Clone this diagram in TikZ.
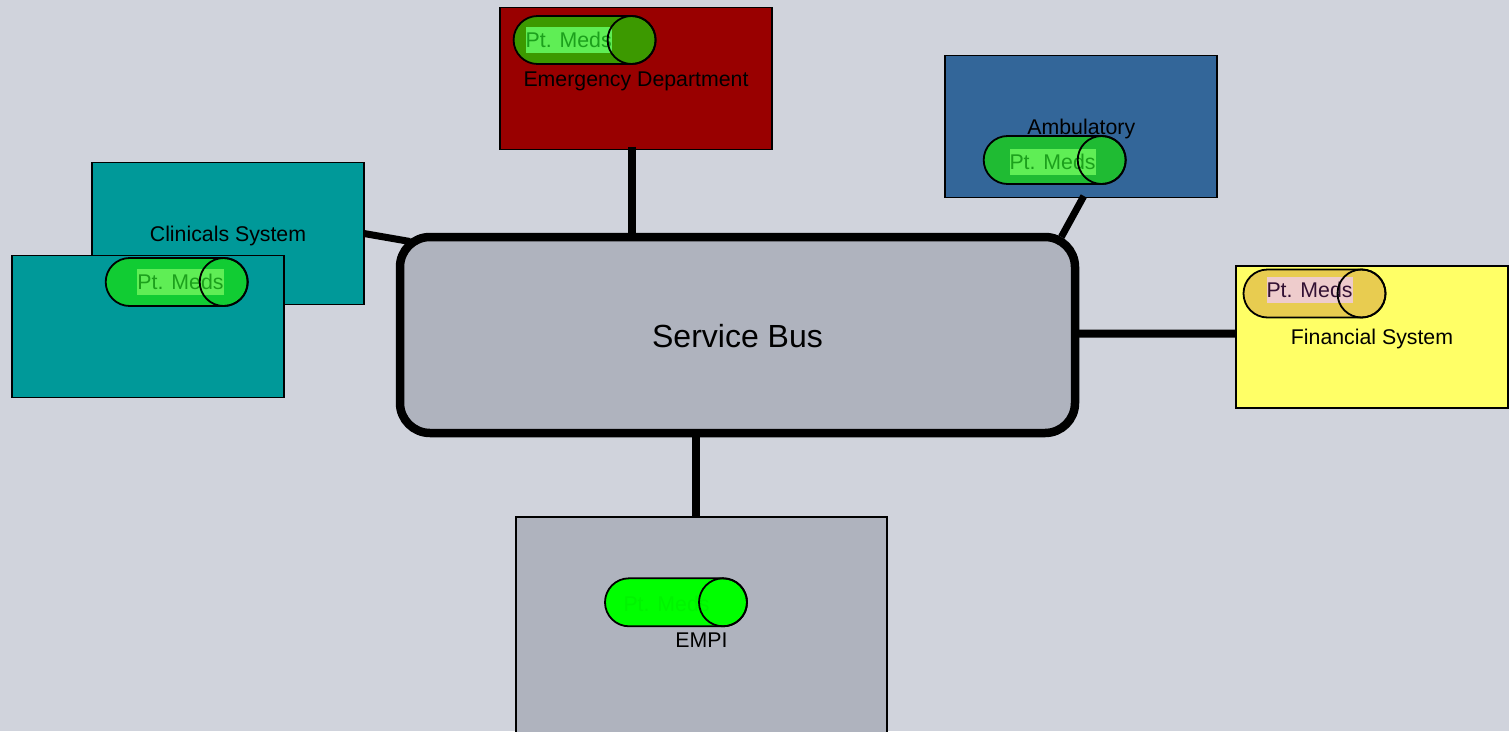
\documentclass[tikz,border=0pt]{standalone}
\usepackage{fontspec}
\setmainfont{Liberation Sans}
\usetikzlibrary{positioning}
\usetikzlibrary{shapes.misc}
\definecolor{bgcol}{HTML}{D0D3DC}
\definecolor{buscol}{HTML}{AFB3BE}
\definecolor{edcol}{HTML}{990000}
\definecolor{clincol}{HTML}{009999}
\definecolor{ambcol}{HTML}{336699}
\definecolor{fincol}{HTML}{FFFF66}
\definecolor{medtext}{HTML}{1CA01C}
\definecolor{medmark}{HTML}{5FEE55}
\definecolor{edpillcol}{HTML}{3C9900}
\definecolor{clinpillcol}{HTML}{11CC33}
\definecolor{ambpillcol}{HTML}{1FBB33}
\definecolor{finpillcol}{HTML}{E8CC50}
\definecolor{empipillcol}{HTML}{00FF00}
\definecolor{finmark}{HTML}{EECCCC}
\definecolor{fintext}{HTML}{331133}
\definecolor{empitext}{HTML}{00F400}
\tikzset{
    sysbox/.style={draw,line width=1.8pt,rectangle,minimum width=272pt,minimum height=142pt,inner sep=0pt,outer sep=0pt,text height=15.3pt,text depth=0pt,font=\fontsize{21.3}{24}\selectfont},
    pillbody/.style={draw,line width=1.8pt,rounded rectangle,minimum width=142pt,minimum height=48pt,inner sep=0pt,outer sep=0pt},
    pillcap/.style={draw,line width=1.8pt,circle,minimum size=48pt,inner sep=0pt,outer sep=0pt,anchor=east},
    medslabel/.style={inner sep=0pt,outer sep=0pt,minimum width=84.5pt,minimum height=26pt,text=medtext,fill=medmark,font=\fontsize{21.3}{24}\selectfont},
    buslink/.style={line width=8pt},
    thinlink/.style={line width=7pt}
}

\begin{document}
\begin{tikzpicture}[x=1pt,y=-1pt]
            \useasboundingbox (0,0) rectangle (1509,731);
            \clip (0,0) rectangle (1509,731);
            \fill[bgcol] (0,0) rectangle (1509,731);

            \node (bus) [draw,line width=8.5pt,rounded corners=30pt,fill=buscol,minimum width=675pt,minimum height=196pt,outer sep=0pt,text height=25pt,text depth=0pt,font=\fontsize{32}{36}\selectfont] at (737.5,335) {Service Bus};

            \node (ed) [sysbox,fill=edcol] at (636,78.5) {Emergency Department};
            \node (clin) [sysbox,fill=clincol] at (228,233.5) {Clinicals System};
            \node (clincopy) [sysbox,fill=clincol] at (148,326.5) {};
            \node (amb) [sysbox,fill=ambcol] at (1081.3,126.5) {Ambulatory};
            \node (fin) [sysbox,fill=fincol] at (1372,337.2) {Financial System};
            \node (empi) [sysbox,fill=buscol,minimum width=371pt,minimum height=246pt] at (701.5,640) {EMPI};

            % pills
            \node (edpill) [pillbody,fill=edpillcol] at (584.6,40) {};
            \node (edmeds) [medslabel] at (568.7,39.7) {Pt. Meds};
            \node (edcap) [pillcap] at (edpill.east) {};

            \node (clinpill) [pillbody,fill=clinpillcol] at (176.7,282) {};
            \node (clinmeds) [medslabel] at (180.5,282) {Pt. Meds};
            \node (clincap) [pillcap] at (clinpill.east) {};

            \node (ambpill) [pillbody,fill=ambpillcol] at (1054.7,160) {};
            \node (ambmeds) [medslabel] at (1052.5,162) {Pt. Meds};
            \node (ambcap) [pillcap] at (ambpill.east) {};

            \node (finpill) [pillbody,fill=finpillcol] at (1314.5,293.5) {};
            \node (finmeds) [medslabel,fill=finmark,text=fintext] at (1309.5,290) {Pt. Meds};
            \node (fincap) [pillcap] at (finpill.east) {};

            \node (empipill) [pillbody,fill=empipillcol] at (676,602.3) {};
            \node (empimeds) [medslabel,fill=empipillcol,text=empitext] at (666.5,604) {Pt. Meds};
            \node (empicap) [pillcap] at (empipill.east) {};

            % links to the bus
            \draw[buslink] ([shift={(-4,-3)}]ed.south) -- ([xshift=-4pt]ed.south |- bus.north);
            \draw[thinlink] (clin.east) -- ([shift={(10,4.5)}]bus.north west);
            \draw[thinlink] ([shift={(2.5,-1.5)}]amb.south) -- ([xshift=-20pt]amb.south |- bus.north);
            \draw[buslink] ([yshift=3.5pt]fin.west) -- ([yshift=1.5pt]bus.east);
            \draw[buslink] ([xshift=-5.5pt]empi.north) -- ([xshift=-5.5pt]empi.north |- bus.south);
        \end{tikzpicture}
\end{document}
